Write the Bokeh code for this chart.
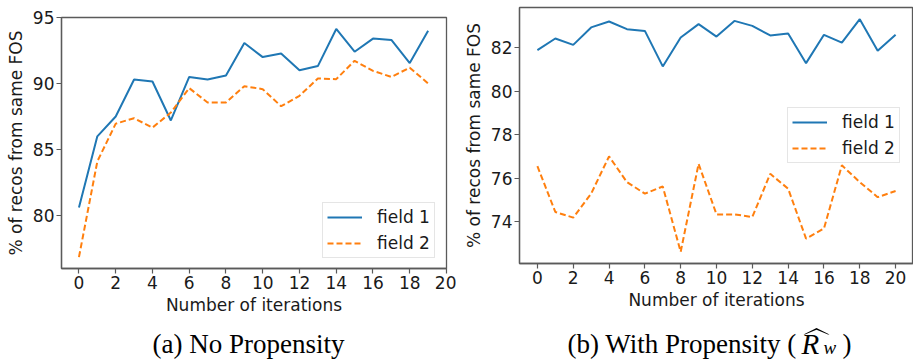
from bokeh.plotting import figure
from bokeh.layouts import row, column
from bokeh.models import PolyAnnotation, FixedTicker, Range1d
from bokeh.core.properties import value
from bokeh.embed import file_html
from bokeh.resources import INLINE

# ---------------- data ----------------
iters_a = list(range(20))
field1_a = [80.6, 86.0, 87.5, 90.3, 90.15, 87.2, 90.5, 90.3, 90.6, 93.07,
            92.0, 92.28, 91.0, 91.32, 94.13, 92.41, 93.4, 93.3, 91.55, 94.0]
field2_a = [76.85, 84.1, 86.96, 87.37, 86.66, 87.8, 89.65, 88.56, 88.56, 89.8,
            89.57, 88.28, 89.07, 90.38, 90.33, 91.72, 90.96, 90.5, 91.2, 90.0]

iters_b = list(range(21))
field1_b = [81.88, 82.41, 82.12, 82.92, 83.19, 82.84, 82.76, 81.13, 82.46, 83.07,
            82.5, 83.22, 82.99, 82.55, 82.64, 81.28, 82.58, 82.22, 83.3, 81.85, 82.58]
field2_b = [76.55, 74.45, 74.19, 75.29, 77.0, 75.82, 75.29, 75.62, 72.62, 76.66,
            74.34, 74.34, 74.22, 76.2, 75.52, 73.23, 73.69, 76.59, 75.82, 75.13, 75.41]

x_ticks = list(range(0, 21, 2))
y_ticks_a = [80, 85, 90, 95]
y_ticks_b = [74, 76, 78, 80, 82]
series_labels = ["field 1", "field 2"]
x_label = "Number of iterations"
y_label = "% of recos from same FOS"
caption_a = "(a) No Propensity"
caption_b = "(b) With Propensity ("

BLUE = "#1f77b4"
ORANGE = "#ff7f0e"
FRAME = "#5a5a5a"
TXT = "#1a1a1a"
SANS = "DejaVu Sans"
SERIF = "Liberation Serif"


def padded(ticks, *series):
    vals = [v for s in series for v in s]
    lo, hi = min(vals), max(vals)
    m = 0.05 * (hi - lo)
    return Range1d(lo - m, max(hi + m, ticks[-1]))


def make_fig(width, height, xr, yr, yticks, borders):
    left, right, top, bottom = borders
    p = figure(width=width, height=height, x_range=xr, y_range=yr,
               output_backend="svg", toolbar_location=None,
               min_border_left=left, min_border_right=right,
               min_border_top=top, min_border_bottom=bottom)
    p.grid.visible = False
    p.outline_line_color = FRAME
    p.outline_line_width = 1.3
    p.background_fill_color = "white"
    p.border_fill_color = "white"
    for ax in (p.xaxis[0], p.yaxis[0]):
        ax.axis_line_color = FRAME
        ax.axis_line_width = 1.3
        ax.major_tick_line_color = FRAME
        ax.major_tick_line_width = 1.2
        ax.major_tick_out = 5
        ax.major_tick_in = 0
        ax.minor_tick_line_color = None
        ax.major_label_text_font = SANS
        ax.major_label_text_font_size = "17px"
        ax.major_label_text_color = TXT
        ax.major_label_standoff = 2
        ax.axis_label_text_font = SANS
        ax.axis_label_text_font_size = "17px"
        ax.axis_label_text_font_style = "normal"
        ax.axis_label_text_color = TXT
    p.xaxis.ticker = FixedTicker(ticks=x_ticks)
    p.yaxis.ticker = FixedTicker(ticks=yticks)
    p.xaxis.axis_label = x_label
    p.yaxis.axis_label = y_label
    p.xaxis.axis_label_standoff = 3
    p.yaxis.axis_label_standoff = 4
    return p


def style_legend(p, loc):
    lg = p.legend[0]
    lg.location = loc
    lg.label_text_font = SANS
    lg.label_text_font_size = "17px"
    lg.label_text_color = TXT
    lg.glyph_width = 35
    lg.glyph_height = 20
    lg.label_height = 20
    lg.spacing = 6
    lg.padding = 4
    lg.margin = 0
    lg.label_standoff = 15
    lg.border_line_color = "#cccccc"
    lg.border_line_width = 1
    lg.background_fill_color = "white"
    lg.background_fill_alpha = 0.8


# ---------------- panel (a) ----------------
p1 = make_fig(456, 320, Range1d(-0.95, 20.0), padded(y_ticks_a, field1_a, field2_a),
              y_ticks_a, (61, 10, 17, 52))
p1.line(iters_a, field1_a, line_color=BLUE, line_width=2, legend_label=series_labels[0])
p1.line(iters_a, field2_a, line_color=ORANGE, line_width=2, line_dash="6 3",
        legend_label=series_labels[1])
style_legend(p1, (261, 10))

# ---------------- panel (b) ----------------
p2 = make_fig(457, 320, Range1d(-1.0, 21.0), padded(y_ticks_b, field1_b, field2_b),
              y_ticks_b, (63, 0, 7, 57))
p2.line(iters_b, field1_b, line_color=BLUE, line_width=2, legend_label=series_labels[0])
p2.line(iters_b, field2_b, line_color=ORANGE, line_width=2, line_dash="6 3",
        legend_label=series_labels[1])
style_legend(p2, (268, 100))

# ---------------- captions strip (page pixel coordinates) ----------------
p3 = figure(width=913, height=44, x_range=Range1d(0, 913), y_range=Range1d(364, 320),
            output_backend="svg", toolbar_location=None, min_border=0)
p3.axis.visible = False
p3.grid.visible = False
p3.outline_line_color = None
p3.background_fill_color = "white"
p3.border_fill_color = "white"


def caption_piece(x, y, txt, size, style="normal", align="left"):
    p3.text(x=[x], y=[y], text=[txt], text_font=value(SERIF),
            text_font_size=value(size), text_font_style=style,
            text_color="black", text_align=align, text_baseline="alphabetic")


caption_piece(248, 343, caption_a, "27px", align="center")
caption_piece(567, 343, caption_b, "27px")
caption_piece(801, 343, "R", "29px", style="italic")
caption_piece(823, 347, "w", "19px", style="italic")
caption_piece(842, 343, ")", "27px")
# wide hat over R
p3.add_layout(PolyAnnotation(xs=[803, 816, 829, 827.5, 816, 804.5],
                             ys=[334, 327.5, 334, 334, 329.3, 334],
                             fill_color="black", fill_alpha=1.0, line_color=None))

layout = column(row(column(p1), column(p2)), p3)
open("out.html", "w").write(file_html(layout, INLINE))
